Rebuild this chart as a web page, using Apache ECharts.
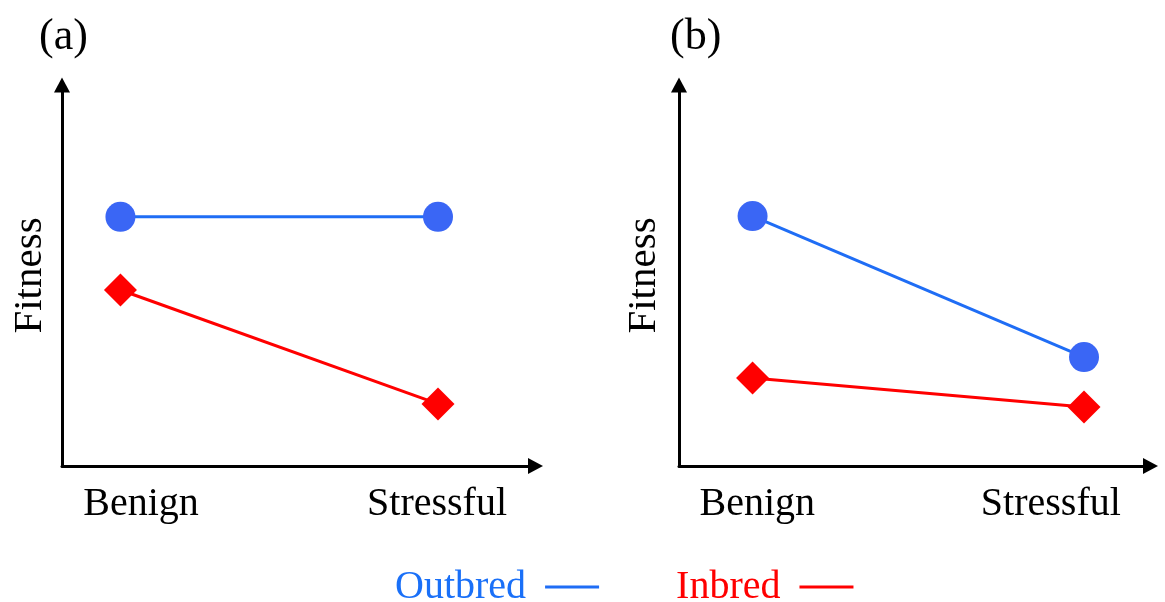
<!DOCTYPE html>
<html>
<head>
<meta charset="utf-8">
<script src="https://cdn.jsdelivr.net/npm/echarts@6/dist/echarts.min.js"></script>
<style>
  html, body { margin: 0; padding: 0; background: #fff; }
  #chart { width: 1165px; height: 602px; }
</style>
</head>
<body>
<div id="chart"></div>
<script>
// Two interaction panels: fitness of outbred vs inbred lines in benign and stressful environments
const categories = ['Benign', 'Stressful'];
const panelTitles = ['(a)', '(b)'];
const seriesNames = ['Outbred', 'Inbred'];

// Fitness values (arbitrary units, 0 = axis origin)
const outbredA = [6.54, 6.54];
const inbredA = [4.62, 1.63];
const outbredB = [6.56, 2.86];
const inbredB = [2.31, 1.55];

// Where the category names sit along each x axis (category index units)
const labelPosA = [0.065, 0.997];
const labelPosB = [0.014, 0.90];

const BLUE_MARK = '#3a66f5';
const BLUE_LINE = '#1f6df5';
const BLUE_TEXT = '#1a70f8';
const RED = '#ff0000';
const FONT = '"Liberation Serif", "DejaVu Serif", serif';

const chart = echarts.init(document.getElementById('chart'), null, { renderer: 'canvas' });

function toPairs(vals) {
  return vals.map((v, i) => [i, v]);
}

function xAxisFor(gridIndex, min, max, labelPos) {
  return {
    type: 'value', gridIndex, min, max,
    axisLine: { show: true, onZero: false, symbol: ['none', 'triangle'], symbolSize: [16, 15],
      lineStyle: { color: '#000', width: 3 } },
    axisTick: { show: false },
    splitLine: { show: false },
    axisLabel: {
      customValues: labelPos,
      formatter: v => categories[Math.round(v)],
      fontFamily: FONT, fontSize: 40, color: '#000', margin: 18
    }
  };
}

function yAxisFor(gridIndex, nameGap) {
  return {
    type: 'value', gridIndex, min: 0, max: 10,
    name: 'Fitness', nameLocation: 'middle', nameRotate: 90, nameGap,
    nameTextStyle: { fontFamily: FONT, fontSize: 41, color: '#000' },
    axisLine: { show: true, onZero: false, symbol: ['none', 'triangle'], symbolSize: [16, 15],
      lineStyle: { color: '#000', width: 3 } },
    axisTick: { show: false },
    axisLabel: { show: false },
    splitLine: { show: false }
  };
}

function outbredSeries(idx, vals) {
  return {
    name: seriesNames[0], type: 'line', xAxisIndex: idx, yAxisIndex: idx,
    data: toPairs(vals), symbol: 'circle', symbolSize: 30,
    itemStyle: { color: BLUE_MARK }, lineStyle: { color: BLUE_LINE, width: 3 },
    emphasis: { disabled: true }, z: 3
  };
}

function inbredSeries(idx, vals) {
  return {
    name: seriesNames[1], type: 'line', xAxisIndex: idx, yAxisIndex: idx,
    data: toPairs(vals), symbol: 'diamond', symbolSize: 33,
    itemStyle: { color: RED }, lineStyle: { color: RED, width: 3 },
    emphasis: { disabled: true }, z: 3
  };
}

chart.setOption({
  animation: false,
  backgroundColor: '#fff',
  title: [
    { text: panelTitles[0], left: 34, top: 10,
      textStyle: { fontFamily: FONT, fontSize: 44, fontWeight: 'normal', color: '#000' } },
    { text: panelTitles[1], left: 665, top: 10,
      textStyle: { fontFamily: FONT, fontSize: 44, fontWeight: 'normal', color: '#000' } }
  ],
  legend: {
    left: 390, top: 562,
    align: 'right',
    icon: 'rect', itemWidth: 54, itemHeight: 3, itemGap: 77,
    selectedMode: false,
    textStyle: { fontFamily: FONT, fontSize: 40, padding: [0, 14, 0, 0] },
    data: [
      { name: seriesNames[0], itemStyle: { color: BLUE_LINE }, textStyle: { color: BLUE_TEXT } },
      { name: seriesNames[1], itemStyle: { color: RED }, textStyle: { color: RED } }
    ]
  },
  grid: [
    { left: 62, top: 85, width: 473.5, bottom: 136 },
    { left: 679, top: 85, width: 471.5, bottom: 136 }
  ],
  xAxis: [
    xAxisFor(0, -0.184, 1.307, labelPosA),
    xAxisFor(1, -0.222, 1.2006, labelPosB)
  ],
  yAxis: [
    yAxisFor(0, 11),
    yAxisFor(1, 14)
  ],
  series: [
    outbredSeries(0, outbredA),
    inbredSeries(0, inbredA),
    outbredSeries(1, outbredB),
    inbredSeries(1, inbredB)
  ]
});
</script>
</body>
</html>
